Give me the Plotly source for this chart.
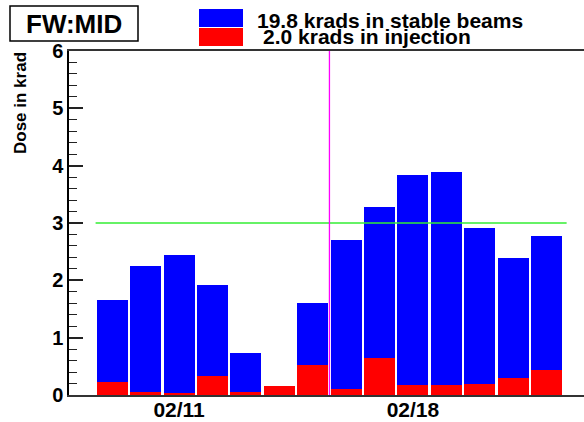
import plotly.graph_objects as go

# Day of February for each bin
days = [9, 10, 11, 12, 13, 14, 15, 16, 17, 18, 19, 20, 21, 22]
# Total dose per day (krad) and injection part
total = [1.66, 2.25, 2.44, 1.92, 0.74, 0.15, 1.61, 2.71, 3.28, 3.84, 3.89, 2.91, 2.39, 2.78]
injection = [0.22, 0.06, 0.03, 0.34, 0.06, 0.15, 0.53, 0.10, 0.64, 0.17, 0.18, 0.20, 0.30, 0.44]
stable = [round(t - i, 3) for t, i in zip(total, injection)]

tick_vals = [11, 18]
tick_text = ["02/11", "02/18"]
threshold = 3
marker_day = 15.5
stable_sum_label = "19.8 krads in stable beams"
injection_sum_label = "2.0 krads in injection"

FONT = "Liberation Sans, Arial, Helvetica, sans-serif"

W, H = 584, 422
L, R, T, B = 69, 0, 51, 27
pw, ph = W - L - R, H - T - B


def px(x):
    return (x - L) / pw


def py(y):
    return 1 - (y - T) / ph


fig = go.Figure()
fig.add_trace(go.Bar(x=days, y=injection, width=0.93, marker=dict(color="#ff0000", line=dict(width=0)),
                     showlegend=False))
fig.add_trace(go.Bar(x=days, y=stable, width=0.93, marker=dict(color="#0000ff", line=dict(width=0)),
                     showlegend=False))

fig.add_shape(type="line", x0=8.5, x1=22.6, y0=threshold, y1=threshold, xref="x", yref="y",
              line=dict(color="#33ee33", width=1.5))
fig.add_shape(type="line", x0=marker_day, x1=marker_day, y0=0, y1=6, xref="x", yref="y",
              line=dict(color="#ff00ff", width=1.3))

# Title box and legend swatches
fig.add_shape(type="rect", xref="paper", yref="paper", x0=px(10), x1=px(138), y0=py(6), y1=py(41),
              line=dict(color="black", width=1.5), fillcolor="white")
fig.add_shape(type="rect", xref="paper", yref="paper", x0=px(199), x1=px(243), y0=py(9), y1=py(27),
              line=dict(width=0), fillcolor="#0000ff")
fig.add_shape(type="rect", xref="paper", yref="paper", x0=px(199), x1=px(243), y0=py(28), y1=py(46),
              line=dict(width=0), fillcolor="#ff0000")

fig.add_annotation(x=px(74), y=py(24), xref="paper", yref="paper", text="FW:MID", showarrow=False,
                   xanchor="center", yanchor="middle",
                   font=dict(family=FONT, size=26, color="black", weight="bold"))
fig.add_annotation(x=px(255), y=py(20), xref="paper", yref="paper",
                   text=stable_sum_label, showarrow=False,
                   xanchor="left", yanchor="middle",
                   font=dict(family=FONT, size=21, color="black", weight="bold"))
fig.add_annotation(x=px(261), y=py(37), xref="paper", yref="paper",
                   text=injection_sum_label, showarrow=False,
                   xanchor="left", yanchor="middle",
                   font=dict(family=FONT, size=21, color="black", weight="bold"))
fig.add_annotation(x=px(20), y=py(50), xref="paper", yref="paper", text="Dose in krad",
                   showarrow=False, textangle=-90, xanchor="center", yanchor="top",
                   font=dict(family=FONT, size=17, color="black", weight="bold"))

fig.update_layout(
    template="none",
    width=W, height=H,
    margin=dict(l=L, r=R, t=T, b=B, pad=0, autoexpand=False),
    paper_bgcolor="white", plot_bgcolor="white",
    barmode="stack", bargap=0,
    showlegend=False,
    xaxis=dict(range=[7.704, 23.12], tickvals=tick_vals, ticktext=tick_text, ticks="",
               automargin=False, ticklabelstandoff=-5,
               showgrid=False, zeroline=False, showline=True, linecolor="#333", linewidth=2,
               mirror=True,
               tickfont=dict(family=FONT, size=21, color="black", weight="bold")),
    yaxis=dict(range=[0, 6], dtick=1, ticks="inside", ticklen=14, tickwidth=1.5, tickcolor="#222",
               automargin=False,
               showgrid=False, zeroline=False, showline=True, linecolor="black", linewidth=1.5,
               ticklabelstandoff=0,
               minor=dict(dtick=0.2, ticks="inside", ticklen=8, tickwidth=1.2, tickcolor="#222",
                          showgrid=False),
               tickfont=dict(family=FONT, size=20, color="black", weight="bold")),
)

fig.write_html(
    "out.html",
    config={"displayModeBar": False},
    post_script="document.body.style.margin='0';document.body.style.padding='0';"
                "document.documentElement.style.overflow='hidden';",
)
